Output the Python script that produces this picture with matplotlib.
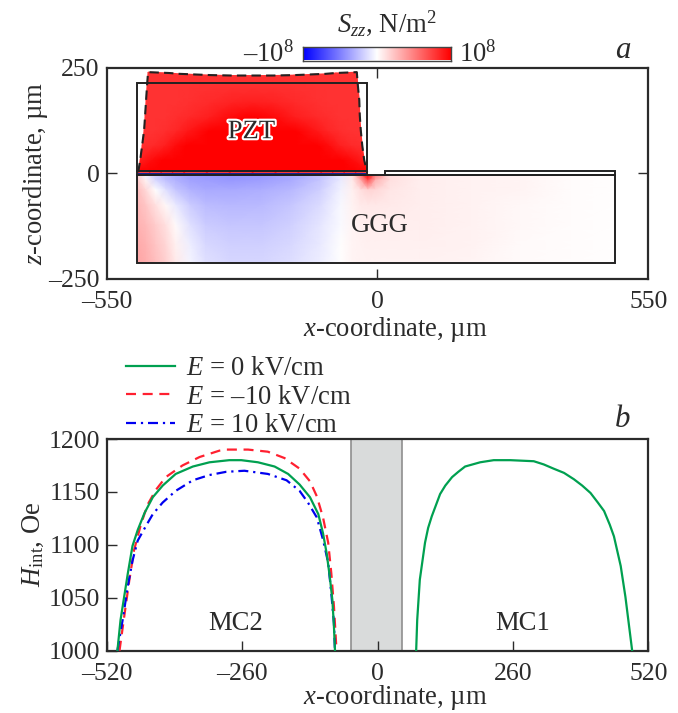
import numpy as np
import matplotlib
matplotlib.use("Agg")
import matplotlib.pyplot as plt
import matplotlib.patheffects as pe
from matplotlib.colors import LinearSegmentedColormap
from matplotlib.patches import Rectangle
from matplotlib.lines import Line2D

plt.rcParams['font.family'] = ['Liberation Serif', 'DejaVu Serif']
plt.rcParams['mathtext.fontset'] = 'custom'
plt.rcParams['mathtext.rm'] = 'Liberation Serif'
plt.rcParams['mathtext.it'] = 'Liberation Serif:italic'
plt.rcParams['mathtext.bf'] = 'Liberation Serif:bold'

# ---------- panel a: stress field (units of 1e8 N/m^2)
ggg_x = [-487, -471, -451, -430, -410, -380, -349, -298, -237, -177, -116, -75, -51, -35, -20, -4, 26, 87, 189, 290, 392, 483]
ggg_z = [-5, -17, -40, -76, -124, -171, -213]
ggg_row1 = [.15, -.05, -.2, -.28, -.33, -.38, -.4, -.42, -.4, -.35, -.25, -.1, .1, .5, 1.3, .5, .12, .06, .05, .04, .01, 0]
ggg_row2 = [.2, .05, -.15, -.25, -.3, -.36, -.38, -.4, -.38, -.33, -.22, -.08, .08, .3, .7, .3, .12, .07, .05, .04, .01, 0]
ggg_row3 = [.25, .15, .0, -.12, -.22, -.3, -.33, -.33, -.32, -.28, -.18, -.05, .06, .12, .17, .15, .1, .07, .05, .04, .01, 0]
ggg_row4 = [.28, .22, .12, .03, -.08, -.2, -.26, -.28, -.27, -.22, -.14, -.03, .05, .08, .09, .09, .08, .07, .05, .03, .01, 0]
ggg_row5 = [.3, .27, .2, .12, .02, -.12, -.2, -.22, -.22, -.18, -.1, -.02, .04, .06, .07, .07, .07, .07, .05, .03, .01, 0]
ggg_row6 = [.33, .3, .23, .16, .06, -.07, -.15, -.18, -.18, -.15, -.08, 0, .04, .05, .06, .06, .06, .06, .05, .02, .01, 0]
ggg_row7 = [.35, .32, .25, .18, .08, -.04, -.12, -.16, -.16, -.13, -.07, 0, .04, .05, .05, .05, .05, .05, .04, .02, .01, 0]

pzt_frac = [0, .05, .1, .15, .2, .3, .4, .5, .6, .7, .8, .85, .9, .95, 1]
pzt_z = [2, 31, 66, 102, 137, 173, 209, 239]
pzt_left = [-486, -482, -478, -474, -472, -470, -468, -466]
pzt_right = [-21, -27, -31, -34, -36, -37, -40, -42]
pzt_top = [239, 238, 237, 235, 234, 232, 231, 231, 231, 232, 234, 235, 237, 238, 239]
pzt_row1 = [1.2] * 15
pzt_row2 = [.88, .95, 1.0, 1.1, 1.2, 1.2, 1.2, 1.2, 1.2, 1.2, 1.2, 1.1, 1.0, .95, .88]
pzt_row3 = [.82, .83, .87, .95, 1.02, 1.15, 1.2, 1.2, 1.2, 1.15, 1.02, .95, .87, .83, .82]
pzt_row4 = [.8, .8, .82, .85, .9, 1.0, 1.1, 1.15, 1.1, 1.0, .9, .85, .82, .8, .8]
pzt_row5 = [.8, .8, .8, .82, .83, .88, .96, 1.0, .96, .88, .83, .82, .8, .8, .8]
pzt_row6 = [.8, .8, .8, .8, .81, .83, .86, .88, .86, .83, .81, .8, .8, .8, .8]
pzt_row7 = [.8, .8, .8, .8, .8, .81, .82, .82, .82, .81, .8, .8, .8, .8, .8]
pzt_row8 = [.8] * 15

# ---------- panel b: internal field
mc2_zero_x = [-500, -494, -487, -480, -471, -461, -448, -432, -413, -388, -355, -323, -285, -262, -230, -198, -172, -150, -130, -114, -105, -98, -92, -87, -84, -82]
mc2_zero_h = [1000, 1029, 1051, 1073, 1099, 1114, 1130, 1145, 1156, 1167, 1174, 1178, 1180, 1180, 1178, 1174, 1167, 1157, 1145, 1129, 1111, 1092, 1070, 1048, 1023, 1000]
mc2_neg_x = [-496, -487, -477, -468, -455, -442, -426, -407, -375, -342, -304, -291, -249, -211, -179, -150, -130, -117, -105, -95, -89, -84, -79]
mc2_neg_h = [1000, 1032, 1067, 1095, 1119, 1138, 1152, 1164, 1175, 1183, 1189, 1190, 1190, 1188, 1182, 1172, 1160, 1146, 1126, 1102, 1073, 1042, 1000]
mc2_pos_x = [-500, -490, -480, -471, -461, -445, -432, -413, -388, -355, -323, -291, -256, -211, -175, -150, -134, -117, -105, -95, -89, -84, -82]
mc2_pos_h = [1000, 1029, 1061, 1085, 1104, 1118, 1129, 1140, 1151, 1161, 1166, 1169, 1170, 1167, 1161, 1151, 1140, 1126, 1105, 1083, 1054, 1026, 1000]
mc1_zero_x = [74, 76, 81, 91, 97, 104, 120, 130, 143, 155, 168, 197, 223, 255, 300, 319, 338, 358, 377, 393, 409, 423, 435, 446, 454, 467, 476, 489]
mc1_zero_h = [1000, 1029, 1067, 1102, 1116, 1127, 1148, 1156, 1164, 1169, 1174, 1178, 1180, 1180, 1179, 1176, 1172, 1168, 1162, 1156, 1149, 1140, 1132, 1119, 1108, 1080, 1051, 1000]
gap_band = [-51, 46]

legend_labels = ['$E$ = 0 kV/cm', '$E$ = –10 kV/cm', '$E$ = 10 kV/cm']
top_xticks = [-550, 0, 550]
top_xlabels = ['–550', '0', '550']
top_yticks = [-250, 0, 250]
top_ylabels = ['–250', '0', '250']
bot_xticks = [-520, -260, 0, 260, 520]
bot_xlabels = ['–520', '–260', '0', '260', '520']
bot_yticks = [1000, 1050, 1100, 1150, 1200]

W, H = 678, 713
TXT = '#2b2b2b'
FS = 19.2
TFS = 18.5
fig = plt.figure(figsize=(W / 100, H / 100), dpi=100)


def px_axes(l, t, r, b):
    return fig.add_axes([l / W, 1 - b / H, (r - l) / W, (b - t) / H])


cmap = LinearSegmentedColormap.from_list('bwr2', ['#0000ff', '#ffffff', '#ff0000'])

ax = px_axes(106.7, 67.5, 648.3, 278.7)
ax.set_xlim(-550, 550)
ax.set_ylim(-250, 250)

GX, GZ = np.meshgrid(ggg_x, ggg_z)
GV = np.array([ggg_row1, ggg_row2, ggg_row3, ggg_row4, ggg_row5, ggg_row6, ggg_row7])
ax.pcolormesh(GX, GZ, GV, cmap=cmap, vmin=-1, vmax=1, shading='gouraud', zorder=1)

frac = np.array(pzt_frac)
left = np.array(pzt_left, float)
right = np.array(pzt_right, float)
zrow = np.array(pzt_z, float)
top = np.array(pzt_top, float)
PX = left[:, None] + frac[None, :] * (right - left)[:, None]
PZ = zrow[:, None] * top[None, :] / top[0]
PV = np.array([pzt_row1, pzt_row2, pzt_row3, pzt_row4, pzt_row5, pzt_row6, pzt_row7, pzt_row8])
ax.pcolormesh(PX, PZ, PV, cmap=cmap, vmin=-1, vmax=1, shading='gouraud', zorder=2)

# deformed outline
ox = list(PX[:, 0]) + list(PX[-1, 1:]) + list(PX[::-1, -1][1:])
oz = list(PZ[:, 0]) + list(PZ[-1, 1:]) + list(PZ[::-1, -1][1:])
ax.plot(ox, oz, color='#222222', lw=1.5, ls=(0, (4.5, 2.5)), zorder=4)

ec = '#222222'
ax.plot([-486, -23], [-2, -2], color='#000a8c', lw=1.3, zorder=3, solid_capstyle='butt')
for (x0, z0, x1, z1) in [(-489, -5, 483, -213), (-489, -5, -20.5, 5), (-489, 5, -20.5, 213), (15, -5, 483, 5.5)]:
    ax.add_patch(Rectangle((x0, z0), x1 - x0, z1 - z0, fill=False, ec=ec, lw=1.4, zorder=5))

ax.text(-256, 98, 'PZT', ha='center', va='center', fontsize=FS, color=TXT, zorder=6,
        path_effects=[pe.withStroke(linewidth=3, foreground='white')])
ax.text(5, -124, 'GGG', ha='center', va='center', fontsize=FS, color=TXT, zorder=6)
ax.set_xticks(top_xticks, top_xlabels)
ax.set_yticks(top_yticks, top_ylabels)
ax.tick_params(axis='x', which='major', direction='in', length=7, width=1.0, color=TXT,
               labelsize=TFS, labelcolor=TXT, top=True, pad=9)
ax.tick_params(axis='y', which='major', direction='in', length=7, width=1.0, color=TXT,
               labelsize=TFS, labelcolor=TXT, right=True, pad=5)
ax.set_ylabel('$z$-coordinate, µm', fontsize=FS, color=TXT, labelpad=-1)

# hide ticks on frame corners
for t in ax.xaxis.get_major_ticks():
    if abs(t.get_loc()) == 550:
        t.tick1line.set_visible(False)
        t.tick2line.set_visible(False)
for t in ax.yaxis.get_major_ticks():
    if abs(t.get_loc()) == 250:
        t.tick1line.set_visible(False)
        t.tick2line.set_visible(False)

# colour bar
cax = px_axes(303, 46.5, 451, 60.5)
cax.imshow(np.linspace(-1, 1, 256)[None, :], aspect='auto', cmap=cmap, vmin=-1, vmax=1, extent=[-1, 1, 0, 1])
cax.set_xticks([])
cax.set_yticks([])
for s in cax.spines.values():
    s.set_linewidth(1.0)
    s.set_color('#444444')
fig.text(294 / W, 1 - 62 / H, '–10$^{8}$', ha='right', va='baseline', fontsize=FS, color=TXT)
fig.text(459 / W, 1 - 62 / H, '10$^{8}$', ha='left', va='baseline', fontsize=FS, color=TXT)
fig.text(387 / W, 1 - 32 / H, '$S_{zz}$, N/m$^{2}$', ha='center', va='baseline', fontsize=FS, color=TXT)
fig.text(623 / W, 1 - 58 / H, 'a', ha='center', va='baseline', fontsize=FS + 3, style='italic', color=TXT)
fig.text(623 / W, 1 - 427 / H, 'b', ha='center', va='baseline', fontsize=FS + 3, style='italic', color=TXT)
fig.text(395 / W, 1 - 336 / H, '$x$-coordinate, µm', ha='center', va='baseline', fontsize=FS, color=TXT)
fig.text(395 / W, 1 - 704 / H, '$x$-coordinate, µm', ha='center', va='baseline', fontsize=FS, color=TXT)

# ---------- panel b
bx = px_axes(107, 439, 648.3, 650.7)
bx.set_xlim(-520, 520)
bx.set_ylim(1000, 1200)
bx.axvspan(gap_band[0], gap_band[1], facecolor='#d9dbdb', edgecolor='#8f8f8f', lw=1.2, zorder=1)
GREEN, RED, BLUE = '#00a050', '#ff2030', '#0000f0'
RED_LS = (0, (4.5, 3))
BLUE_LS = (0, (4.5, 2.2, 1, 2.2))
bx.plot(mc2_neg_x, mc2_neg_h, color=RED, lw=1.6, ls=RED_LS, zorder=3)
bx.plot(mc2_pos_x, mc2_pos_h, color=BLUE, lw=1.6, ls=BLUE_LS, zorder=3)
bx.plot(mc2_zero_x, mc2_zero_h, color=GREEN, lw=1.6, zorder=4)
bx.plot(mc1_zero_x, mc1_zero_h, color=GREEN, lw=1.6, zorder=4)
bx.text(-273, 1019.5, 'MC2', ha='center', va='baseline', fontsize=FS, color=TXT)
bx.text(278, 1019.5, 'MC1', ha='center', va='baseline', fontsize=FS, color=TXT)
bx.set_xticks(bot_xticks, bot_xlabels)
bx.set_yticks(bot_yticks)
bx.tick_params(axis='x', which='major', direction='in', length=7, width=1.0, color=TXT,
               labelsize=TFS, labelcolor=TXT, pad=9)
bx.tick_params(axis='y', which='major', direction='in', length=7, width=1.0, color=TXT,
               labelsize=TFS, labelcolor=TXT, pad=5)
bx.set_ylabel(r'$H_{\mathrm{int}}$, Oe', fontsize=FS, color=TXT, labelpad=2)

for a in (ax, bx):
    for s in a.spines.values():
        s.set_linewidth(1.6)
        s.set_color(TXT)

handles = [Line2D([], [], color=GREEN, lw=1.6),
           Line2D([], [], color=RED, lw=1.6, ls=RED_LS),
           Line2D([], [], color=BLUE, lw=1.6, ls=BLUE_LS)]
leg = fig.legend(handles, legend_labels, loc='upper left', bbox_to_anchor=(126 / W, 1 - 356 / H),
                 frameon=False, fontsize=FS, labelcolor=TXT, handlelength=1.85, handletextpad=0.4,
                 labelspacing=0.14, borderpad=0, borderaxespad=0)

fig.savefig('out.png', dpi=100)
